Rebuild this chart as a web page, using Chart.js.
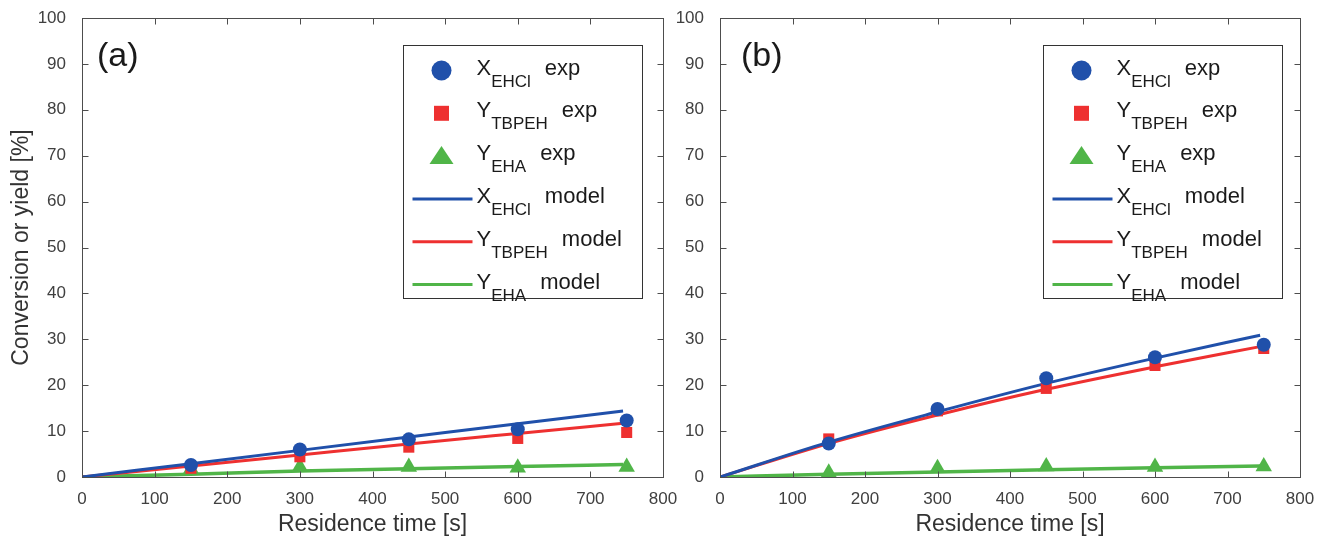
<!DOCTYPE html>
<html>
<head>
<meta charset="utf-8">
<script src="https://cdn.jsdelivr.net/npm/chart.js@4.4.1/dist/chart.umd.min.js"></script>
<style>
  body { margin: 0; background: #fff; }
  #wrap { position: relative; width: 1322px; height: 540px; overflow: hidden; }
  #panelA { position: absolute; left: 0; top: 0; }
  #panelB { position: absolute; left: 660px; top: 0; }
</style>
</head>
<body>
<div id="wrap">
  <canvas id="panelA" width="700" height="540"></canvas>
  <canvas id="panelB" width="662" height="540"></canvas>
</div>
<script>
// residence times of the experiments and of the model curves [s]
var expTime = [150, 300, 450, 600, 750];
var modelTime = [0, 150, 300, 450, 600, 745];

// panel (a)
var aXEHClExp = [2.6, 6.0, 8.2, 10.4, 12.3];
var aYTBPEHExp = [1.9, 4.4, 6.5, 8.4, 9.7];
var aYEHAExp = [1.7, 2.2, 2.2, 2.0, 2.2];
var aXEHClModel = [0, 2.9, 5.8, 8.7, 11.6, 14.4];
var aYTBPEHModel = [0, 2.4, 4.8, 7.2, 9.5, 11.7];
var aYEHAModel = [0, 0.6, 1.3, 1.8, 2.3, 2.7];

// panel (b)
var bXEHClExp = [7.3, 14.8, 21.5, 26.1, 28.8];
var bYTBPEHExp = [8.3, 14.4, 19.3, 24.3, 28.0];
var bYEHAExp = [0.9, 1.9, 2.3, 2.2, 2.3];
var bXEHClModel = [0, 7.6, 14.2, 20.4, 25.9, 30.9];
var bYTBPEHModel = [0, 7.3, 13.5, 19.1, 24.0, 28.4];
var bYEHAModel = [0, 0.6, 1.1, 1.6, 2.0, 2.4];

// legend text pieces: symbol, subscript, suffix
var legendSymbol = ['X', 'Y', 'Y', 'X', 'Y', 'Y'];
var legendSub = ['EHCl', 'TBPEH', 'EHA', 'EHCl', 'TBPEH', 'EHA'];
var legendNote = ['exp', 'exp', 'exp', 'model', 'model', 'model'];

var BLUE = '#2050aa';
var RED = '#ee3030';
var GREEN = '#50b548';
var AXIS = '#4d4d4d';
var FONT = '"Liberation Sans", Arial, Helvetica, sans-serif';

function pts(xs, ys) {
    return xs.map(function (x, i) { return { x: x, y: ys[i] }; });
}

function markerSet(i, xs, ys, color, style, r) {
    return {
        label: legendSymbol[i] + legendSub[i] + ' ' + legendNote[i],
        data: pts(xs, ys),
        showLine: false,
        pointStyle: style,
        pointRadius: r,
        pointBackgroundColor: color,
        pointBorderWidth: 0,
        order: 0
    };
}

function lineSet(i, xs, ys, color, w) {
    return {
        label: legendSymbol[i] + legendSub[i] + ' ' + legendNote[i],
        data: pts(xs, ys),
        showLine: true,
        borderColor: color,
        borderWidth: w,
        pointRadius: 0,
        cubicInterpolationMode: 'monotone',
        order: 1
    };
}

// box, inward ticks, panel tag and the legend with subscripts
var panelFrame = {
    id: 'panelFrame',
    afterDraw: function (chart, args, opts) {
        var ctx = chart.ctx;
        var a = chart.chartArea;
        var xs = chart.scales.x, ys = chart.scales.y;
        var l = Math.round(a.left) + 0.5, r = Math.round(a.right) + 0.5;
        var t = Math.round(a.top) + 0.5, b = Math.round(a.bottom) + 0.5;
        ctx.save();
        ctx.strokeStyle = AXIS;
        ctx.lineWidth = 1;
        ctx.strokeRect(l, t, r - l, b - t);
        ctx.beginPath();
        xs.ticks.forEach(function (tk) {
            var px = Math.round(xs.getPixelForValue(tk.value)) + 0.5;
            ctx.moveTo(px, b); ctx.lineTo(px, b - 6);
            ctx.moveTo(px, t); ctx.lineTo(px, t + 6);
        });
        ys.ticks.forEach(function (tk) {
            var py = Math.round(ys.getPixelForValue(tk.value)) + 0.5;
            ctx.moveTo(l, py); ctx.lineTo(l + 6, py);
            ctx.moveTo(r, py); ctx.lineTo(r - 6, py);
        });
        ctx.stroke();

        ctx.fillStyle = '#1a1a1a';
        ctx.font = '34px ' + FONT;
        ctx.textBaseline = 'alphabetic';
        ctx.fillText(opts.tag, a.left + opts.tagX, 66);

        // legend box
        var bw = 239, bh = 253;
        var bx = Math.round(a.right - opts.legendRight - bw) + 0.5, by = 45.5;
        ctx.fillStyle = '#fff';
        ctx.fillRect(bx, by, bw, bh);
        ctx.strokeStyle = '#333';
        ctx.strokeRect(bx, by, bw, bh);

        var sets = chart.data.datasets;
        for (var i = 0; i < sets.length; i++) {
            var cy = by + 25 + i * 42.8;
            var mx = bx + 38;
            var ds = sets[i];
            if (ds.showLine) {
                ctx.strokeStyle = ds.borderColor;
                ctx.lineWidth = 3;
                ctx.beginPath();
                ctx.moveTo(bx + 9, cy); ctx.lineTo(bx + 69, cy);
                ctx.stroke();
            } else {
                ctx.fillStyle = ds.pointBackgroundColor;
                ctx.beginPath();
                if (ds.pointStyle === 'circle') {
                    ctx.arc(mx, cy, 10, 0, Math.PI * 2);
                } else if (ds.pointStyle === 'rect') {
                    ctx.rect(mx - 7.5, cy - 7.5, 15, 15);
                } else {
                    ctx.moveTo(mx, cy - 10);
                    ctx.lineTo(mx + 12, cy + 8);
                    ctx.lineTo(mx - 12, cy + 8);
                    ctx.closePath();
                }
                ctx.fill();
            }
            var tx = bx + 73;
            ctx.fillStyle = '#1a1a1a';
            ctx.font = '22px ' + FONT;
            ctx.fillText(legendSymbol[i], tx, cy + 4);
            tx += ctx.measureText(legendSymbol[i]).width;
            ctx.font = '17px ' + FONT;
            ctx.fillText(legendSub[i], tx, cy + 16);
            tx += ctx.measureText(legendSub[i]).width + 14;
            ctx.font = '22px ' + FONT;
            ctx.fillText(legendNote[i], tx, cy + 4);
        }
        ctx.restore();
    }
};

function makeChart(id, sets, yWidth, padRight, showYTitle, tag, tagX, legendRight) {
    var ctx = document.getElementById(id).getContext('2d');
    return new Chart(ctx, {
        type: 'scatter',
        data: { datasets: sets },
        plugins: [panelFrame],
        options: {
            responsive: false,
            animation: false,
            layout: { padding: { top: 18, right: padRight, bottom: 0, left: 0 } },
            plugins: {
                legend: { display: false },
                tooltip: { enabled: false },
                panelFrame: { tag: tag, tagX: tagX, legendRight: legendRight }
            },
            scales: {
                x: {
                    type: 'linear',
                    min: 0,
                    max: 800,
                    grid: { display: false },
                    border: { display: false },
                    ticks: { stepSize: 100, color: '#404040', padding: 4, font: { family: FONT, size: 17 } },
                    title: {
                        display: true,
                        text: 'Residence time [s]',
                        color: '#333',
                        font: { family: FONT, size: 23 },
                        padding: { top: 0, bottom: 2 }
                    },
                    afterFit: function (s) { s.height = 63; s.paddingLeft = 0; s.paddingRight = 0; }
                },
                y: {
                    min: 0,
                    max: 100,
                    grid: { display: false },
                    border: { display: false },
                    ticks: { stepSize: 10, color: '#404040', padding: 8, font: { family: FONT, size: 17 } },
                    title: {
                        display: showYTitle,
                        text: 'Conversion or yield [%]',
                        color: '#333',
                        font: { family: FONT, size: 23 },
                        padding: { top: 8, bottom: 0 }
                    },
                    afterFit: function (s) { s.width = yWidth; s.paddingTop = 0; s.paddingBottom = 0; }
                }
            }
        }
    });
}

var setsA = [
    markerSet(0, expTime, aXEHClExp, BLUE, 'circle', 7),
    markerSet(1, expTime, aYTBPEHExp, RED, 'rect', 7.8),
    markerSet(2, expTime, aYEHAExp, GREEN, 'triangle', 9.5),
    lineSet(3, modelTime, aXEHClModel, BLUE, 3),
    lineSet(4, modelTime, aYTBPEHModel, RED, 3),
    lineSet(5, modelTime, aYEHAModel, GREEN, 3.5)
];

var setsB = [
    markerSet(0, expTime, bXEHClExp, BLUE, 'circle', 7),
    markerSet(1, expTime, bYTBPEHExp, RED, 'rect', 7.8),
    markerSet(2, expTime, bYEHAExp, GREEN, 'triangle', 9.5),
    lineSet(3, modelTime, bXEHClModel, BLUE, 3),
    lineSet(4, modelTime, bYTBPEHModel, RED, 3),
    lineSet(5, modelTime, bYEHAModel, GREEN, 3.5)
];

makeChart('panelA', setsA, 82, 37, true, '(a)', 15, 21);
makeChart('panelB', setsB, 60, 22, false, '(b)', 21, 18);
</script>
</body>
</html>
